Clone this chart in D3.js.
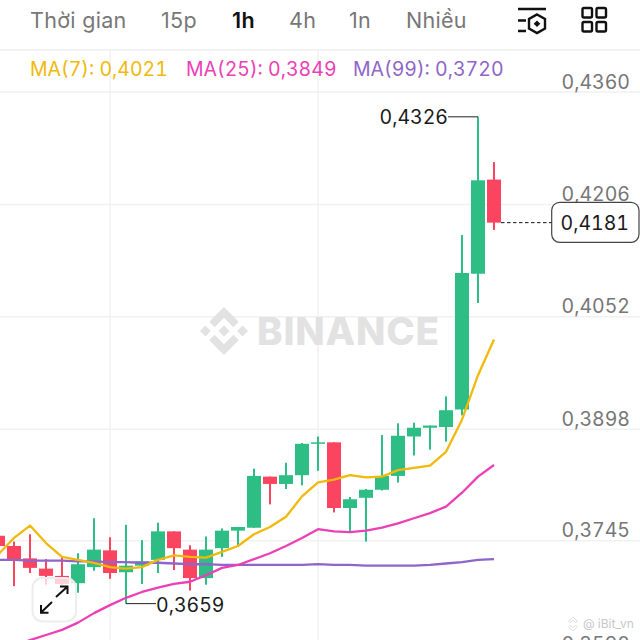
<!DOCTYPE html>
<html><head><meta charset="utf-8">
<script src="https://cdn.jsdelivr.net/npm/d3@7/dist/d3.min.js"></script>
<style>html,body{margin:0;padding:0;background:#fff;overflow:hidden}svg{display:block}text{font-family:Inter,"Noto Sans",sans-serif;font-variant-numeric:tabular-nums;font-feature-settings:"tnum" 1}text.tf{font-variant-numeric:normal;font-feature-settings:"tnum" 0}</style>
</head><body><svg id="c" width="640" height="640"></svg>
<script>
const timeframes = ["Thời gian","15p","1h","4h","1n","Nhiều"];
const activeFrame = "1h";
const opens  = [.3752,.3738,.3721,.3707,.3697,.3687,.3709,.3732,.3702,.3711,.3719,.3758,.3733,.3694,.3735,.3759,.3763,.3833,.3823,.3835,.3878,.3880,.3790,.3804,.3815,.3834,.3888,.3900,.3901,.3925,.4111,.4240];
const highs  = [.3752,.3744,.3754,.3720,.3723,.3728,.3776,.3750,.3767,.3746,.3770,.3758,.3739,.3751,.3762,.3764,.3844,.3833,.3852,.3879,.3888,.3880,.3805,.3816,.3890,.3906,.3907,.3903,.3943,.4164,.4326,.4264];
const lows   = [.3738,.3683,.3701,.3685,.3685,.3674,.3704,.3693,.3659,.3686,.3701,.3705,.3677,.3685,.3723,.3739,.3763,.3795,.3816,.3821,.3841,.3784,.3757,.3744,.3814,.3825,.3862,.3870,.3881,.3917,.4071,.4171];
const closes = [.3738,.3720,.3708,.3697,.3686,.3713,.3733,.3701,.3711,.3717,.3758,.3735,.3694,.3733,.3759,.3764,.3834,.3823,.3835,.3878,.3880,.3790,.3802,.3815,.3834,.3889,.3900,.3903,.3924,.4112,.4239,.4181];
const ma7  = [.3726,.3749,.3766,.3742,.3723,.3719,.3715,.3709,.3707,.3709,.3719,.3725,.3723,.3722,.3730,.3738,.3754,.3764,.3778,.3806,.3825,.3829,.3835,.3832,.3833,.3842,.3845,.3848,.3867,.3911,.3972,.4021];
const ma25 = [.3593,.3601,.3609,.3616,.3623,.3633,.3646,.3657,.3667,.3675,.3681,.3686,.3689,.3698,.3708,.3712,.3720,.3728,.3738,.3749,.3761,.3758,.3757,.3759,.3763,.3769,.3776,.3783,.3792,.3811,.3833,.3849];
const ma99 = [.3719,.3719,.3718,.3718,.3718,.3717,.3717,.3716,.3716,.3715,.3715,.3714,.3713,.3713,.3712,.3712,.3712,.3712,.3712,.3712,.3713,.3712,.3712,.3711,.3711,.3711,.3711,.3712,.3714,.3716,.3719,.3720];
const maLabels = ["MA(7): 0,4021","MA(25): 0,3849","MA(99): 0,3720"];
const priceTicks = [.4360,.4206,.4052,.3898,.3745,.3590];
const tickLabels = ["0,4360","0,4206","0,4052","0,3898","0,3745","0,3590"];
const gridCandles = [7,20];
const lastPrice = .4181, lastLabel = "0,4181";
const maxPrice = .4326, maxLabel = "0,4326", maxIndex = 30;
const minPrice = .3659, minLabel = "0,3659", minIndex = 8;

const GREEN="#2EBD85", RED="#FB4560", GRID="#f1f1f1";
const svg=d3.select("#c");
const y=d3.scaleLinear().domain([.4360,.3590]).range([92,654]);
const x=d3.scaleLinear().domain([0,31]).range([-2,494]);

// frame lines
svg.append("line").attr("x1",0).attr("x2",640).attr("y1",50).attr("y2",50).attr("stroke","#eeeeee").attr("stroke-width",1.5);
svg.append("g").selectAll("line").data(gridCandles).join("line")
  .attr("x1",d=>x(d)).attr("x2",d=>x(d)).attr("y1",50).attr("y2",640).attr("stroke",GRID).attr("stroke-width",1.5);
svg.append("g").selectAll("line").data(priceTicks).join("line")
  .attr("x1",0).attr("x2",640).attr("y1",d=>y(d)).attr("y2",d=>y(d)).attr("stroke",GRID).attr("stroke-width",1.5);

// watermark
const wm=svg.append("g").attr("transform","translate(200,307) scale(0.379)");
wm.append("path").attr("fill","#e2e2e2").attr("d","M38.73 53.2l24.59-24.58 24.6 24.6 14.3-14.31L63.32 0 24.42 38.9l14.31 14.3zM0 63.31l14.3-14.31 14.31 14.31-14.31 14.3zM38.73 73.41l24.59 24.59 24.6-24.6 14.31 14.29-38.9 38.91-38.91-38.88v-.03l14.31-14.28zM98 63.31L112.3 49l14.31 14.3-14.31 14.32zM77.83 63.3L63.32 48.78 52.59 59.51l-1.24 1.23-2.54 2.54 14.51 14.5 14.51-14.47z");
svg.append("text").attr("x",257).attr("y",345).attr("font-size",38.5).attr("font-weight",800).attr("letter-spacing",0.8).attr("fill","#e2e2e2").text("BINANCE");

// small user watermark
const wm2=svg.append("g").attr("transform","translate(566,617) scale(0.11)");
wm2.append("path").attr("fill","none").attr("stroke","#d5d5d5").attr("stroke-width",8).attr("d","M38.73 53.2l24.59-24.58 24.6 24.6 14.3-14.31L63.32 0 24.42 38.9l14.31 14.3zM38.73 73.41l24.59 24.59 24.6-24.6 14.31 14.29-38.9 38.91-38.91-38.88v-.03l14.31-14.28z");
svg.append("text").attr("x",583).attr("y",628).attr("font-size",12).attr("fill","#c8c8c8").text("@ iBit_vn");

// candles
const idx=d3.range(opens.length);
const col=i=>closes[i]>=opens[i]?GREEN:RED;
svg.append("g").selectAll("rect").data(idx).join("rect")
  .attr("x",i=>x(i)-1).attr("width",2).attr("y",i=>y(highs[i])).attr("height",i=>y(lows[i])-y(highs[i])).attr("fill",col);
svg.append("g").selectAll("rect").data(idx).join("rect")
  .attr("x",i=>x(i)-7).attr("width",14)
  .attr("y",i=>y(Math.max(opens[i],closes[i])))
  .attr("height",i=>Math.max(1.5,Math.abs(y(opens[i])-y(closes[i])))).attr("fill",col);

// moving averages
const line=d3.line().x((d,i)=>x(i)).y(d=>y(d));
[[ma99,"#8E65C9"],[ma25,"#EB40B5"],[ma7,"#F0B90B"]].forEach(([s,c])=>{
  svg.append("path").datum(s).attr("d",line).attr("fill","none").attr("stroke",c).attr("stroke-width",2.3).attr("stroke-linejoin","round");
});

// y axis labels
const axis=d3.axisRight(y).tickValues(priceTicks).tickFormat((d,i)=>tickLabels[i]).tickSize(0);
const ga=svg.append("g").attr("transform","translate(630,0)").call(axis);
ga.select(".domain").remove();
ga.selectAll("text").attr("x",0).attr("dy",0).attr("y",-4).attr("text-anchor","end").attr("font-size",19.5).attr("fill","#767676").style("font-family","Inter,'Noto Sans',sans-serif");

// extreme labels
svg.append("path").attr("d",`M${x(maxIndex)},${y(maxPrice)}H448`).attr("stroke","#222").attr("fill","none");
svg.append("text").attr("x",448).attr("y",y(maxPrice)+7).attr("text-anchor","end").attr("font-size",19.5).attr("fill","#1a1a1a").text(maxLabel);
svg.append("path").attr("d",`M${x(minIndex)},${y(minPrice)}H156`).attr("stroke","#222").attr("fill","none");
svg.append("text").attr("x",156).attr("y",y(minPrice)+8).attr("font-size",19.5).attr("fill","#1a1a1a").text(minLabel);

// last price
svg.append("line").attr("x1",x(31)+7).attr("x2",552).attr("y1",y(lastPrice)).attr("y2",y(lastPrice)).attr("stroke","#111").attr("stroke-dasharray","3.5,2.5");
svg.append("rect").attr("x",551.7).attr("y",202.3).attr("width",87.3).attr("height",40).attr("rx",8).attr("fill","#fff").attr("stroke","#444").attr("stroke-width",1.2);
svg.append("text").attr("x",629).attr("y",230).attr("text-anchor","end").attr("font-size",19.5).attr("fill","#1a1a1a").text(lastLabel);

// header
const tfX=[30,161,232,289,349,406];
svg.append("g").selectAll("text").data(timeframes).join("text").attr("class","tf")
  .attr("x",(d,i)=>tfX[i]).attr("y",28).attr("font-size",21.5).attr("letter-spacing",0.3)
  .attr("font-weight",d=>d===activeFrame?600:400).attr("fill",d=>d===activeFrame?"#111":"#777").text(d=>d);
const maX=[30,186,353], maC=["#F0B90B","#EB40B5","#8E65C9"];
svg.append("g").selectAll("text").data(maLabels).join("text")
  .attr("x",(d,i)=>maX[i]).attr("y",76).attr("font-size",19.5).attr("fill",(d,i)=>maC[i]).text(d=>d);

// header icons
const ic=svg.append("g").attr("fill","none").attr("stroke","#111").attr("stroke-width",2.4);
ic.append("path").attr("d","M518 9H546M518 20.5H526M518 31H526");
ic.append("path").attr("d","M537 14.5L545 19V28.5L537 33L529 28.5V19Z");
svg.append("path").attr("d","M537 20.5L540.3 23.8L537 27L533.7 23.8Z").attr("fill","#111");
[[582.5,8],[596.5,8],[582.5,22],[596.5,22]].forEach(([a,b])=>ic.append("rect").attr("x",a).attr("y",b).attr("width",9.5).attr("height",9.5).attr("rx",1.5));

// zoom button
svg.append("rect").attr("x",32.5).attr("y",578).attr("width",43.5).attr("height",43.5).attr("rx",10).attr("fill","rgba(255,255,255,.75)").attr("stroke","#ededed").attr("stroke-width",2);
const zb=svg.append("g").attr("fill","none").attr("stroke","#111").attr("stroke-width",2);
zb.append("path").attr("d","M56 597L67 587M60 586.5H67.5V594M41 612.5L52 602M41 605V612.8H48.5");
</script></body></html>
